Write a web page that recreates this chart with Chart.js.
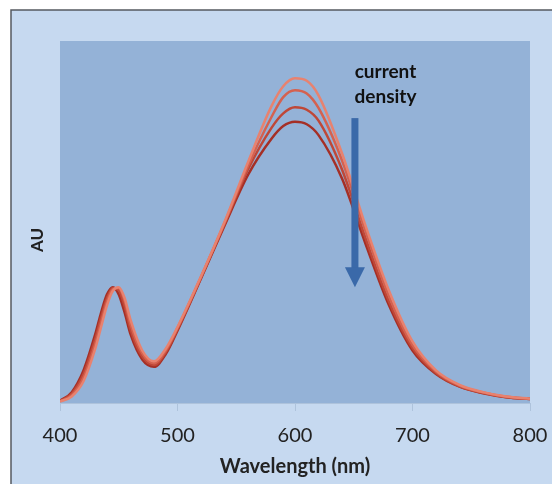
<!DOCTYPE html>
<html>
<head>
<meta charset="utf-8">
<script src="https://cdn.jsdelivr.net/npm/chart.js@4.4.0/dist/chart.umd.min.js"></script>
<style>
  html, body { margin: 0; padding: 0; background: #fff; }
  #wrap { width: 552px; height: 484px; }
</style>
</head>
<body>
<div id="wrap"><canvas id="grafico" width="552" height="484"></canvas></div>
<script>
// Comprimentos de onda (nm)
const comprimentos = [400, 410, 420, 430, 435, 440, 445, 450, 455, 460, 470, 480, 490, 500,
  520, 540, 560, 580, 590, 600, 610, 620, 640, 660, 680, 700, 720, 740, 760, 780, 800];

// Espectros (AU), do mais claro ao mais escuro
const serie1 = [0.004, 0.018, 0.06, 0.15, 0.21, 0.27, 0.31, 0.32, 0.29, 0.23, 0.145, 0.115, 0.15, 0.21,
  0.35, 0.50, 0.665, 0.82, 0.875, 0.897, 0.89, 0.85, 0.69, 0.49, 0.31, 0.17, 0.09, 0.05, 0.03, 0.018, 0.012];
const serie2 = [0.005, 0.022, 0.07, 0.163, 0.223, 0.28, 0.315, 0.318, 0.282, 0.217, 0.137, 0.11, 0.145, 0.207,
  0.348, 0.497, 0.655, 0.79, 0.845, 0.864, 0.855, 0.815, 0.67, 0.475, 0.295, 0.16, 0.087, 0.048, 0.029, 0.017, 0.012];
const serie3 = [0.005, 0.026, 0.08, 0.177, 0.237, 0.29, 0.318, 0.312, 0.267, 0.203, 0.128, 0.105, 0.14, 0.204,
  0.346, 0.494, 0.645, 0.76, 0.80, 0.817, 0.81, 0.78, 0.645, 0.455, 0.28, 0.152, 0.083, 0.046, 0.028, 0.016, 0.011];
const serie4 = [0.006, 0.03, 0.09, 0.19, 0.25, 0.30, 0.32, 0.30, 0.25, 0.19, 0.12, 0.10, 0.135, 0.20,
  0.344, 0.49, 0.63, 0.73, 0.765, 0.777, 0.77, 0.74, 0.62, 0.44, 0.27, 0.145, 0.08, 0.045, 0.027, 0.016, 0.011];

const cores = ['#E8826F', '#D5614F', '#BF4737', '#A52F26'];
const ticksX = [400, 500, 600, 700, 800];

// Seta "current density" (em unidades dos eixos)
const setaOnda = 651;
const setaTopo = 0.787;
const setaPonta = 0.32;
const textoOnda = 677;
const textoLinhas = ['current', 'density'];
const textoY = [0.914, 0.845];

const montarPontos = (valores) => comprimentos.map((c, i) => ({ x: c, y: valores[i] }));

// Fundo externo e área do gráfico
const fundo = {
  id: 'fundo',
  beforeDraw(chart) {
    const { ctx, chartArea: a, width, height } = chart;
    ctx.save();
    ctx.fillStyle = '#ffffff';
    ctx.fillRect(0, 0, width, height);
    ctx.fillStyle = '#C6D9F0';
    ctx.fillRect(11, 10, width - 11, height - 10);
    ctx.strokeStyle = '#555a60';
    ctx.lineWidth = 1.5;
    ctx.beginPath();
    ctx.moveTo(11, height);
    ctx.lineTo(11, 10);
    ctx.lineTo(width, 10);
    ctx.stroke();
    ctx.fillStyle = '#94B2D7';
    ctx.fillRect(a.left, a.top, a.right - a.left, a.bottom - a.top);
    ctx.restore();
  }
};

// Seta, texto e título do eixo y
const seta = {
  id: 'seta',
  afterDatasetsDraw(chart) {
    const { ctx, scales, chartArea: a } = chart;
    const x = scales.x.getPixelForValue(setaOnda);
    const y0 = scales.y.getPixelForValue(setaTopo);
    const y1 = scales.y.getPixelForValue(setaPonta);
    ctx.save();
    ctx.fillStyle = '#3A69A9';
    ctx.fillRect(x - 3.5, y0, 7, (y1 - y0) - 18);
    ctx.beginPath();
    ctx.moveTo(x - 10, y1 - 20);
    ctx.lineTo(x + 10, y1 - 20);
    ctx.lineTo(x, y1);
    ctx.closePath();
    ctx.fill();
    ctx.fillStyle = '#111';
    ctx.font = 'bold 19px Lato';
    ctx.textAlign = 'center';
    ctx.textBaseline = 'middle';
    const xt = scales.x.getPixelForValue(textoOnda);
    textoLinhas.forEach((t, i) => ctx.fillText(t, xt, scales.y.getPixelForValue(textoY[i])));

    ctx.translate(38, (a.top + a.bottom) / 2 + 18);
    ctx.rotate(-Math.PI / 2);
    ctx.font = 'bold 17px Lato';
    ctx.fillStyle = '#222';
    ctx.fillText('AU', 0, 0);
    ctx.restore();
  }
};

const ctx = document.getElementById('grafico').getContext('2d');
new Chart(ctx, {
  type: 'line',
  data: {
    datasets: [serie1, serie2, serie3, serie4].map((s, i) => ({
      data: montarPontos(s),
      borderColor: cores[i],
      borderWidth: 2.5,
      pointRadius: 0,
      tension: 0.4,
      cubicInterpolationMode: 'monotone',
      fill: false
    }))
  },
  options: {
    responsive: false,
    animation: false,
    layout: { padding: { left: 0, top: 41, right: 22, bottom: 0 } },
    plugins: { legend: { display: false }, tooltip: { enabled: false } },
    scales: {
      x: {
        type: 'linear',
        min: 400,
        max: 800,
        afterBuildTicks: (s) => { s.ticks = ticksX.map(v => ({ value: v })); },
        afterFit: (s) => { s.height = 81; s.paddingRight = 0; s.paddingLeft = 0; },
        ticks: { color: '#222', font: { family: 'Lato', size: 20 }, padding: 13, maxRotation: 0 },
        grid: { drawOnChartArea: false, tickLength: 8, color: '#AEC3DC' },
        border: { color: '#AEC3DC' },
        title: {
          display: true, text: 'Wavelength (nm)', color: '#222',
          font: { family: 'Lato', size: 20, weight: 'bold' }, padding: { top: 0, bottom: 5 }
        }
      },
      y: {
        min: 0,
        max: 1,
        afterFit: (s) => { s.width = 60; },
        ticks: { display: false },
        grid: { display: false },
        border: { display: false }
      }
    }
  },
  plugins: [fundo, seta]
});
</script>
</body>
</html>
